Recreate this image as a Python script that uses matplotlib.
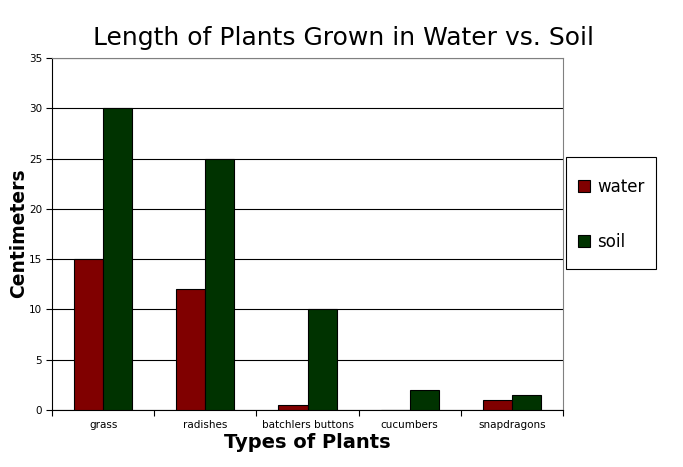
import numpy as np
import matplotlib
matplotlib.use('Agg')
import matplotlib.pyplot as plt
from matplotlib.patches import Rectangle

# data
plants = ['grass', 'radishes', 'batchlers buttons', 'cucumbers', 'snapdragons']
water = [15, 12, 0.5, 0, 1]
soil = [30, 25, 10, 2, 1.5]
y_ticks = [0, 5, 10, 15, 20, 25, 30, 35]

fig = plt.figure(figsize=(6.83, 4.67), dpi=100)
ax = fig.add_axes([52 / 683, 57 / 467, 511 / 683, 352 / 467])

x = np.arange(len(plants))
w = 0.285
ax.bar(x - w / 2, water, w, color='#800000', edgecolor='black', linewidth=0.8, label='water', zorder=3)
ax.bar(x + w / 2, soil, w, color='#003300', edgecolor='black', linewidth=0.8, label='soil', zorder=3)

ax.set_xlim(-0.5, len(plants) - 0.5)
ax.set_ylim(0, 35)
ax.set_yticks(y_ticks)
ax.set_yticklabels([str(v) for v in y_ticks], fontsize=7.5)
ax.yaxis.grid(True, color='black', linewidth=0.8, zorder=0)

# category labels at centres, tick marks at the boundaries
ax.set_xticks(x)
ax.set_xticklabels(plants, fontsize=7.5)
ax.tick_params(axis='x', which='major', length=0, pad=7)
ax.set_xticks(np.arange(len(plants) + 1) - 0.5, minor=True)
ax.tick_params(axis='x', which='minor', length=4, width=0.8, direction='out')
ax.tick_params(axis='y', length=4, width=0.8, direction='out', pad=3)

for side in ['top', 'right']:
    ax.spines[side].set_color('gray')
for side in ['left', 'bottom']:
    ax.spines[side].set_color('black')
    ax.spines[side].set_linewidth(0.8)

fig.text(0.503, 1 - 38 / 467, 'Length of Plants Grown in Water vs. Soil', ha='center', va='center', fontsize=18)
fig.text(307 / 683, 1 - 443 / 467, 'Types of Plants', ha='center', va='center', fontsize=14, fontweight='bold')
fig.text(19 / 683, 1 - 233 / 467, 'Centimeters', ha='center', va='center', rotation=90,
         fontsize=13.5, fontweight='bold')

# legend box drawn by hand so the padding matches
fig.patches.append(Rectangle((566 / 683, 1 - 269 / 467), 90 / 683, 112 / 467,
                             transform=fig.transFigure, facecolor='white',
                             edgecolor='black', linewidth=0.8))
leg = fig.legend(loc='center', bbox_to_anchor=(611 / 683, 1 - 214.5 / 467),
                 fontsize=12, frameon=False,
                 handlelength=0.75, handleheight=0.75, handletextpad=0.4,
                 labelspacing=2.2, borderpad=0)

plt.savefig('out.png', dpi=100)
